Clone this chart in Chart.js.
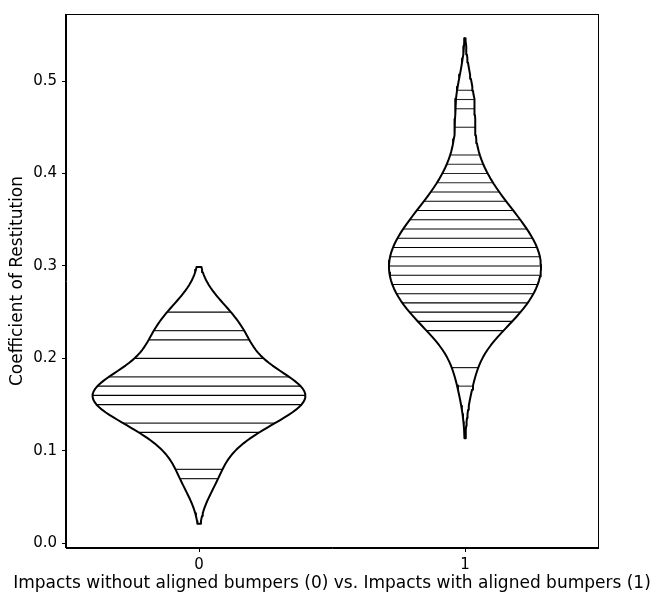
<!DOCTYPE html>
<html>
<head>
<meta charset="utf-8">
<script src="https://cdn.jsdelivr.net/npm/chart.js@4/dist/chart.umd.min.js"></script>
<style>
  html, body { margin: 0; padding: 0; background: #fff; }
  canvas { display: block; }
</style>
</head>
<body>
<canvas id="c" width="653" height="592"></canvas>
<script>
// Coefficient of restitution (rounded to 0.01) and how many impacts gave each value
const groups = [0, 1];
const values0 = [0.07, 0.08, 0.12, 0.13, 0.15, 0.16, 0.17, 0.18, 0.20, 0.22, 0.23, 0.25];
const counts0 = [1, 1, 3, 1, 3, 5, 3, 1, 2, 2, 1, 2];
const values1 = [0.17, 0.19, 0.23, 0.24, 0.25, 0.26, 0.27, 0.28, 0.29, 0.30, 0.31, 0.32, 0.33,
                 0.34, 0.35, 0.36, 0.37, 0.38, 0.39, 0.40, 0.41, 0.42, 0.45, 0.47, 0.48, 0.49];
const counts1 = [1, 2, 3, 4, 3, 4, 4, 4, 5, 5, 5, 4, 4, 4, 3, 3, 2, 2, 1, 1, 1, 1, 1, 1, 1, 1];
const xTicks = [0, 1];
const yTicks = [0.0, 0.1, 0.2, 0.3, 0.4, 0.5];

const xTitle = 'Impacts without aligned bumpers (0) vs. Impacts with aligned bumpers (1)';
const yTitle = 'Coefficient of Restitution';

// Gaussian KDE with Scott's bandwidth, support cut at 2 bandwidths past the data
function expand(vals, counts) {
  const out = [];
  vals.forEach((v, i) => { for (let k = 0; k < counts[i]; k++) out.push(v); });
  return out;
}
function kde(obs) {
  const n = obs.length;
  const mean = obs.reduce((a, b) => a + b, 0) / n;
  const sd = Math.sqrt(obs.reduce((a, b) => a + (b - mean) ** 2, 0) / (n - 1));
  const bw = sd * Math.pow(n, -0.2);
  const norm = n * bw * Math.sqrt(2 * Math.PI);
  const f = y => obs.reduce((a, o) => a + Math.exp(-0.5 * ((y - o) / bw) ** 2), 0) / norm;
  const lo = Math.min(...obs) - 2 * bw;
  const hi = Math.max(...obs) + 2 * bw;
  const grid = [];
  const N = 100;
  for (let i = 0; i < N; i++) {
    const y = lo + (hi - lo) * i / (N - 1);
    grid.push({ y, d: f(y) });
  }
  return { f, grid, lo, hi };
}

const sets = [
  { center: groups[0], vals: values0, counts: counts0, k: kde(expand(values0, counts0)) },
  { center: groups[1], vals: values1, counts: counts1, k: kde(expand(values1, counts1)) }
];

// area scaling: the widest violin gets half-width 0.4
const maxDens = Math.max(...sets.map(s => Math.max(...s.k.grid.map(g => g.d))));
const halfW = d => d / maxDens * 0.4;

const outlineSets = [];
const stickSets = [];
sets.forEach(s => {
  const right = s.k.grid.map(g => ({ x: s.center + halfW(g.d), y: g.y }));
  const left = s.k.grid.slice().reverse().map(g => ({ x: s.center - halfW(g.d), y: g.y }));
  const pts = right.concat(left, [right[0]]);
  outlineSets.push({
    data: pts, showLine: true, fill: false, borderColor: '#000', borderWidth: 2,
    pointRadius: 0, pointHoverRadius: 0, tension: 0, borderJoinStyle: 'round'
  });
  s.vals.forEach((v, i) => {
    const w = halfW(s.k.f(v));
    const a = 1 - Math.pow(1 - 0.85, s.counts[i]);
    stickSets.push({
      data: [{ x: s.center - w, y: v }, { x: s.center + w, y: v }],
      showLine: true, fill: false, borderColor: 'rgba(0,0,0,' + a.toFixed(3) + ')', borderWidth: 1.1,
      pointRadius: 0, pointHoverRadius: 0, tension: 0
    });
  });
});

// y limits: data extent plus 5% margin on each side
const yLo = Math.min(...sets.map(s => s.k.lo));
const yHi = Math.max(...sets.map(s => s.k.hi));
const pad = (yHi - yLo) * 0.05;

const titleFont = { family: 'DejaVu Sans', size: 17 };
const tickFont = { family: 'DejaVu Sans', size: 15 };

// box around the plot area, plus the x-axis title (wider than the axis itself)
const frame = {
  id: 'frame',
  afterDraw(chart) {
    const { ctx, chartArea: a } = chart;
    ctx.save();
    ctx.strokeStyle = '#000';
    ctx.lineWidth = 1;
    ctx.strokeRect(Math.round(a.left) - 0.5, Math.round(a.top) + 0.5,
                   Math.round(a.right - a.left) + 1, Math.round(a.bottom - a.top) - 1);
    ctx.fillStyle = '#000';
    ctx.font = titleFont.size + 'px "' + titleFont.family + '"';
    ctx.textAlign = 'center';
    ctx.textBaseline = 'alphabetic';
    ctx.fillText(xTitle, (a.left + a.right) / 2, a.bottom + 40);
    ctx.restore();
  }
};

new Chart(document.getElementById('c'), {
  type: 'scatter',
  data: { datasets: outlineSets.concat(stickSets) },
  options: {
    responsive: false,
    animation: false,
    devicePixelRatio: 1,
    layout: { padding: { top: 13, right: 55, left: 0, bottom: 0 } },
    plugins: { legend: { display: false }, tooltip: { enabled: false } },
    scales: {
      x: {
        type: 'linear', min: -0.5, max: 1.5,
        afterBuildTicks: s => { s.ticks = xTicks.map(v => ({ value: v })); },
        afterFit: s => { s.height = 44; },
        ticks: { callback: v => String(v), font: tickFont, color: '#000', padding: 4, maxRotation: 0, autoSkip: false },
        grid: { display: true, drawOnChartArea: false, drawTicks: true, tickLength: 4, color: '#000', lineWidth: 1 },
        border: { display: true, color: '#000', width: 1 },
        title: { display: false }
      },
      y: {
        type: 'linear', min: yLo - pad, max: yHi + pad,
        afterBuildTicks: s => { s.ticks = yTicks.map(v => ({ value: v })); },
        afterFit: s => { s.width = 66; },
        ticks: { callback: v => v.toFixed(1), font: tickFont, color: '#000', padding: 5, autoSkip: false },
        grid: { display: true, drawOnChartArea: false, drawTicks: true, tickLength: 4, color: '#000', lineWidth: 1 },
        border: { display: true, color: '#000', width: 1 },
        title: { display: true, text: yTitle, font: titleFont, color: '#000', padding: { top: 7, bottom: 0 } }
      }
    }
  },
  plugins: [frame]
});
</script>
</body>
</html>
